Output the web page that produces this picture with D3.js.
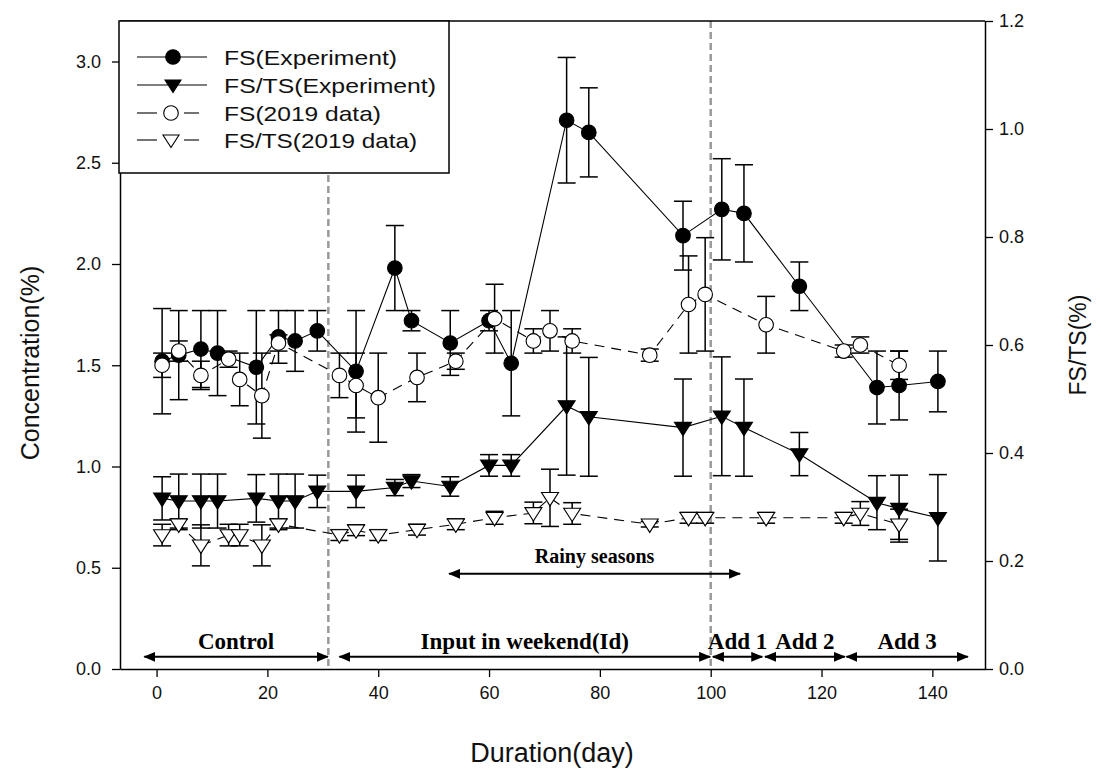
<!DOCTYPE html>
<html><head><meta charset="utf-8">
<script src="https://cdn.jsdelivr.net/npm/d3@7"></script>
<style>body{margin:0;background:#fff}</style>
</head><body><svg id="c" width="1101" height="774"></svg>
<script>
// ---------- data ----------
const expDays = [1,4,8,11,18,22,25,29,36,43,46,53,60,64,74,78,95,102,106,116,130,134,141];
const fsExp = [1.52,1.55,1.58,1.56,1.49,1.64,1.62,1.67,1.47,1.98,1.72,1.61,1.72,1.51,2.71,2.65,2.14,2.27,2.25,1.89,1.39,1.40,1.42];
const fsExpErr = [0.26,0.22,0.19,0.21,0.28,0.13,0.15,0.10,0.30,0.21,0.05,0.16,0.05,0.26,0.31,0.22,0.17,0.25,0.24,0.12,0.18,0.17,0.15];
const fstsExp = [0.316,0.311,0.311,0.311,0.316,0.311,0.311,0.329,0.329,0.336,0.348,0.338,0.377,0.377,0.487,0.467,0.447,0.468,0.447,0.398,0.308,0.297,0.28];
const fstsExpErr = [0.04,0.05,0.05,0.05,0.044,0.05,0.05,0.03,0.03,0.015,0.012,0.018,0.02,0.02,0.128,0.11,0.09,0.11,0.09,0.04,0.05,0.062,0.08];

const oldDays = [1,4,8,13,15,19,22,33,36,40,47,54,61,68,71,75,89,96,99,110,124,127,134];
const fsOld = [1.50,1.57,1.45,1.53,1.43,1.35,1.61,1.45,1.40,1.34,1.44,1.52,1.73,1.62,1.67,1.62,1.55,1.80,1.85,1.70,1.57,1.60,1.50];
const fsOldErr = [0.06,0.05,0.07,0.04,0.13,0.21,0.04,0.11,0.16,0.22,0.12,0.04,0.17,0.06,0.10,0.06,0.03,0.24,0.28,0.14,0.03,0.04,0.07];
const fstsOld = [0.248,0.268,0.229,0.248,0.248,0.229,0.268,0.248,0.257,0.248,0.258,0.268,0.28,0.289,0.317,0.288,0.268,0.28,0.28,0.28,0.28,0.288,0.268];
const fstsOldErr = [0.02,0.01,0.038,0.02,0.02,0.038,0.01,0.01,0.01,0.01,0.01,0.01,0.012,0.02,0.053,0.02,0.005,0.01,0.01,0.01,0.01,0.022,0.028];

const xTicks = [0,20,40,60,80,100,120,140];
const yLeftTicks = [0,0.5,1.0,1.5,2.0,2.5,3.0];
const yRightTicks = [0,0.2,0.4,0.6,0.8,1.0,1.2];

const dividerDays = [31,100];
const periodLabels = ["Control","Input in weekend(Id)","Add 1","Add 2","Add 3"];
const periodStart = [-2.2,33,100.4,109.8,124.5];
const periodEnd = [30.9,99.9,109.3,124.2,146.4];
const rainyLabel = "Rainy seasons";
const rainyStart = 52.8, rainyEnd = 105.3;

const legendLabels = ["FS(Experiment)","FS/TS(Experiment)","FS(2019 data)","FS/TS(2019 data)"];

// ---------- layout ----------
const L = 120, R = 985, T = 21, B = 669;
const svg = d3.select("#c");
svg.append("rect").attr("width",1101).attr("height",774).attr("fill","#fff");

const x = d3.scaleLinear().domain([-6.6,149.5]).range([L,R]);
const yL = d3.scaleLinear().domain([0,3.2]).range([B,T]);
const yR = d3.scaleLinear().domain([0,1.2]).range([B,T]);

const FONT = "Arial, 'Liberation Sans', sans-serif";
const SERIF = "'Times New Roman', 'Liberation Serif', serif";

// divider lines
svg.append("g").selectAll("line").data(dividerDays).join("line")
  .attr("x1",d=>x(d)).attr("x2",d=>x(d)).attr("y1",T).attr("y2",B)
  .attr("stroke","#9a9a9a").attr("stroke-width",2.5).attr("stroke-dasharray","7,4");

// frame top
svg.append("line").attr("x1",L).attr("x2",R).attr("y1",T).attr("y2",T).attr("stroke","#000").attr("stroke-width",1.5);

// axes
function styleAxis(g){
  g.selectAll("path.domain").attr("stroke","#000").attr("stroke-width",1.5);
  g.selectAll(".tick line").attr("stroke","#000").attr("stroke-width",1.3);
  g.selectAll(".tick text").attr("fill","#111").style("font-family",FONT).style("font-size","18px");
}
svg.append("g").attr("transform",`translate(0,${B})`)
  .call(d3.axisBottom(x).tickValues(xTicks).tickFormat(d3.format("d")).tickSize(8).tickSizeOuter(0).tickPadding(9))
  .call(styleAxis);
svg.append("g").attr("transform",`translate(${L},0)`)
  .call(d3.axisLeft(yL).tickValues(yLeftTicks).tickFormat(d3.format(".1f")).tickSize(8).tickSizeOuter(0).tickPadding(11))
  .call(styleAxis);
svg.append("g").attr("transform",`translate(${R},0)`)
  .call(d3.axisRight(yR).tickValues(yRightTicks).tickFormat(d3.format(".1f")).tickSize(8).tickSizeOuter(0).tickPadding(6))
  .call(styleAxis);

// axis titles
svg.append("text").attr("transform","translate(39,363) rotate(-90)").attr("text-anchor","middle")
  .style("font-family",FONT).style("font-size","25px").attr("fill","#111").text("Concentration(%)");
svg.append("text").attr("x",552).attr("y",762).attr("text-anchor","middle")
  .style("font-family",FONT).style("font-size","27px").attr("fill","#111").text("Duration(day)");
svg.append("text").attr("transform","translate(1086,345) rotate(-90)").attr("text-anchor","middle")
  .style("font-family",FONT).style("font-size","23px").attr("fill","#111").text("FS/TS(%)");

// arrow markers
const defs = svg.append("defs");
defs.append("marker").attr("id","ah").attr("viewBox","0 0 12 10").attr("refX",11).attr("refY",5)
  .attr("markerWidth",12).attr("markerHeight",10).attr("markerUnits","userSpaceOnUse").attr("orient","auto-start-reverse")
  .append("path").attr("d","M0,0 L12,5 L0,10 Z").attr("fill","#000");

function arrow(d0,d1,v,label,fs,dy){
  svg.append("line").attr("x1",x(d0)).attr("x2",x(d1)).attr("y1",yL(v)).attr("y2",yL(v))
    .attr("stroke","#000").attr("stroke-width",2)
    .attr("marker-start","url(#ah)").attr("marker-end","url(#ah)");
  svg.append("text").attr("x",x((d0+d1)/2)).attr("y",yL(v)-dy).attr("text-anchor","middle")
    .style("font-family",SERIF).style("font-weight","bold").style("font-size",fs+"px").attr("fill","#000").text(label);
}
periodLabels.forEach((lab,i)=>arrow(periodStart[i],periodEnd[i],0.06,lab,23,8));
arrow(rainyStart,rainyEnd,0.47,rainyLabel,20,11);

// series drawing helpers
const sym = {
  circle: d3.symbol().type(d3.symbolCircle).size(Math.PI*7.3*7.3),
  tri: (cx,cy,s)=>`M${cx-s},${cy-s*0.62} L${cx+s},${cy-s*0.62} L${cx},${cy+s*0.95} Z`
};
function series(days, vals, errs, ys, opt){
  const g = svg.append("g");
  const pts = days.map((d,i)=>({d, v:vals[i], e:errs[i]}));
  const eg = g.append("g").attr("stroke","#000").attr("stroke-width",1.5);
  pts.forEach(p=>{
    const cx = x(p.d), y1 = ys(p.v+p.e), y2 = ys(p.v-p.e);
    eg.append("line").attr("x1",cx).attr("x2",cx).attr("y1",y1).attr("y2",y2);
    eg.append("line").attr("x1",cx-9).attr("x2",cx+9).attr("y1",y1).attr("y2",y1);
    eg.append("line").attr("x1",cx-9).attr("x2",cx+9).attr("y1",y2).attr("y2",y2);
  });
  g.append("path").datum(pts).attr("fill","none").attr("stroke","#000").attr("stroke-width",1.1)
    .attr("stroke-dasharray",opt.dashed?"10,7":null)
    .attr("d",d3.line().x(p=>x(p.d)).y(p=>ys(p.v)));
  pts.forEach(p=>{
    const cx = x(p.d), cy = ys(p.v);
    if(opt.shape==="circle"){
      g.append("path").attr("d",sym.circle()).attr("transform",`translate(${cx},${cy})`)
        .attr("fill",opt.fill).attr("stroke","#000").attr("stroke-width",1.1);
    } else {
      g.append("path").attr("d",sym.tri(cx,cy,8.5)).attr("fill",opt.fill).attr("stroke","#000").attr("stroke-width",1.1);
    }
  });
}
series(expDays, fsExp, fsExpErr, yL, {shape:"circle", fill:"#000", dashed:false});
series(expDays, fstsExp, fstsExpErr, yR, {shape:"tri", fill:"#000", dashed:false});
series(oldDays, fsOld, fsOldErr, yL, {shape:"circle", fill:"#fff", dashed:true});
series(oldDays, fstsOld, fstsOldErr, yR, {shape:"tri", fill:"#fff", dashed:true});

// legend
const lg = svg.append("g");
lg.append("rect").attr("x",119).attr("y",T).attr("width",330).attr("height",152)
  .attr("fill","#fff").attr("stroke","#000").attr("stroke-width",1.5);
const rowY = [57,85,113,140];
const legendTextLen = [173,212,157,193];
legendLabels.forEach((lab,i)=>{
  const cy = rowY[i], dashed = i>=2, fill = i<2?"#000":"#fff";
  if(!dashed){
    lg.append("line").attr("x1",137).attr("x2",207).attr("y1",cy).attr("y2",cy).attr("stroke","#000").attr("stroke-width",1.1);
  } else {
    lg.append("line").attr("x1",137).attr("x2",157).attr("y1",cy).attr("y2",cy).attr("stroke","#000").attr("stroke-width",1.1);
    lg.append("line").attr("x1",184).attr("x2",199).attr("y1",cy).attr("y2",cy).attr("stroke","#000").attr("stroke-width",1.1);
  }
  const cx = dashed?171:173;
  if(i%2===0){
    lg.append("path").attr("d",sym.circle()).attr("transform",`translate(${cx},${cy})`).attr("fill",fill).attr("stroke","#000").attr("stroke-width",1.1);
  } else {
    lg.append("path").attr("d",sym.tri(cx,cy,8)).attr("fill",fill).attr("stroke","#000").attr("stroke-width",1.1);
  }
  lg.append("text").attr("x",224).attr("y",cy).attr("dy","0.36em")
    .attr("textLength",legendTextLen[i]).attr("lengthAdjust","spacingAndGlyphs")
    .style("font-family",FONT).style("font-size","21px").attr("fill","#111").text(lab);
});
</script>
</body></html>
